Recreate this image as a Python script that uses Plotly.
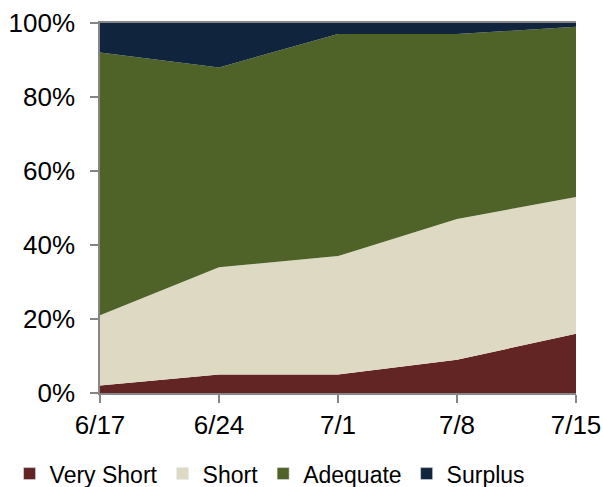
import plotly.graph_objects as go

dates = ["6/17", "6/24", "7/1", "7/8", "7/15"]
very_short = [2, 5, 5, 9, 16]
short = [19, 29, 32, 38, 37]
adequate = [71, 54, 60, 50, 46]
surplus = [8, 12, 3, 3, 1]
y_ticks = [0, 20, 40, 60, 80, 100]
y_tick_labels = ["0%", "20%", "40%", "60%", "80%", "100%"]

series = [
    ("Very Short", very_short, "#632523"),
    ("Short", short, "#DDD9C3"),
    ("Adequate", adequate, "#4F6228"),
    ("Surplus", surplus, "#10243E"),
]

xpos = list(range(len(dates)))

fig = go.Figure()
for name, vals, color in series:
    fig.add_trace(go.Scatter(
        x=xpos, y=vals, name=name, stackgroup="one", mode="none",
        fillcolor=color, line=dict(width=0), showlegend=False,
        hoverinfo="skip",
    ))
for name, vals, color in series:
    fig.add_trace(go.Bar(x=[None], y=[None], name=name, marker_color=color, showlegend=True))

font_family = "Liberation Sans, Arial, sans-serif"
fig.update_layout(
    width=603, height=487,
    margin=dict(l=100, r=27, t=23, b=94, autoexpand=False),
    paper_bgcolor="white", plot_bgcolor="white",
    font=dict(family=font_family, size=26, color="black"),
    showlegend=True,
    legend=dict(
        orientation="h", x=-0.19, xanchor="left", y=-0.218, yanchor="middle",
        font=dict(size=23, family=font_family, color="black"),
        traceorder="normal", itemwidth=30, itemclick=False,
        tracegroupgap=0,
    ),
    xaxis=dict(
        range=[0, 4], tickvals=xpos, ticktext=dates, automargin=False,
        showgrid=False, zeroline=False,
        showline=True, linecolor="#868686", linewidth=1.5, mirror=True,
        ticks="outside", ticklen=8, tickcolor="#868686", tickwidth=1.5,
        tickfont=dict(size=26),
    ),
    yaxis=dict(
        range=[0, 100], tickvals=y_ticks, ticktext=y_tick_labels, automargin=False,
        showgrid=False, zeroline=False,
        showline=True, linecolor="#868686", linewidth=1.5,
        ticks="outside", ticklen=8, tickcolor="#868686", tickwidth=1.5,
        tickfont=dict(size=26), ticklabelstandoff=10,
    ),
)

fig.write_html(
    "out.html",
    config={"displayModeBar": False},
    post_script="document.body.style.margin='0';document.body.style.overflow='hidden';",
)
